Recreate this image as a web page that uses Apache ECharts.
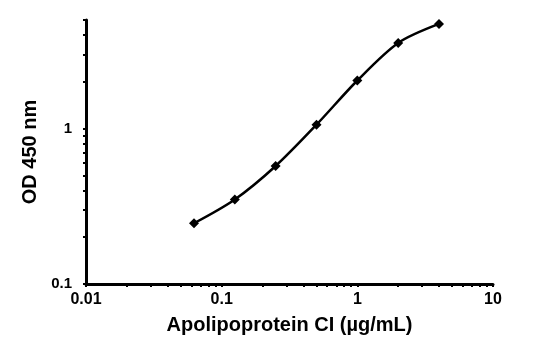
<!DOCTYPE html>
<html><head><meta charset="utf-8">
<script src="https://cdn.jsdelivr.net/npm/echarts@6/dist/echarts.min.js"></script>
<style>html,body{margin:0;padding:0;background:#fff}#c{width:560px;height:340px}</style>
</head><body><div id="c"></div>
<script>
var concentrations = [0.0625, 0.125, 0.25, 0.5, 1, 2, 4];
var odValues = [0.246, 0.35, 0.575, 1.06, 2.04, 3.56, 4.72];
var xLabelValues = [0.01, 0.1, 1, 10];
var yLabelValues = [0.1, 1];
var xTickValues = [0.01,0.02,0.03,0.04,0.05,0.06,0.07,0.08,0.09,0.1,0.2,0.3,0.4,0.5,0.6,0.7,0.8,0.9,1,2,3,4,5,6,7,8,9,10];
var yTickValues = [0.1,0.2,0.3,0.4,0.5,0.6,0.7,0.8,0.9,1,2,3,4,5];
var xName = 'Apolipoprotein CI (µg/mL)';
var yName = 'OD 450 nm';

var chart = echarts.init(document.getElementById('c'));
var font = 'Liberation Sans, Arial, sans-serif';
chart.setOption({
  animation: false,
  grid: {left: 86, right: 67, top: 20, bottom: 56},
  xAxis: {
    type: 'log', min: 0.01, max: 10, logBase: 10,
    name: xName, nameLocation: 'middle', nameGap: 31,
    nameTextStyle: {fontFamily: font, fontWeight: 'bold', fontSize: 20, color: '#000'},
    axisLine: {show: true, lineStyle: {color: '#000', width: 3}},
    axisTick: {show: true, inside: false, length: 3, customValues: xTickValues, lineStyle: {color: '#000', width: 2}},
    axisLabel: {customValues: xLabelValues, margin: 8, fontFamily: font, fontWeight: 'bold', fontSize: 16, color: '#000',
      formatter: function(v){ return String(v); }},
    splitLine: {show: false}, minorTick: {show: false}
  },
  yAxis: {
    type: 'log', min: 0.1, max: 5, logBase: 10,
    name: yName, nameLocation: 'middle', nameGap: 40, nameRotate: 90,
    nameTextStyle: {fontFamily: font, fontWeight: 'bold', fontSize: 20, color: '#000'},
    axisLine: {show: true, lineStyle: {color: '#000', width: 3}},
    axisTick: {show: true, inside: false, length: 3, customValues: yTickValues, lineStyle: {color: '#000', width: 2}},
    axisLabel: {customValues: yLabelValues, margin: 14, fontFamily: font, fontWeight: 'bold', fontSize: 15, color: '#000',
      formatter: function(v){ return String(v); }},
    splitLine: {show: false}, minorTick: {show: false}
  },
  series: [{
    type: 'line',
    data: concentrations.map(function(c, i){ return [c, odValues[i]]; }),
    smooth: 0.3,
    symbol: 'diamond', symbolSize: 10,
    lineStyle: {color: '#000', width: 2.5},
    itemStyle: {color: '#000'}
  }]
});
</script></body></html>
